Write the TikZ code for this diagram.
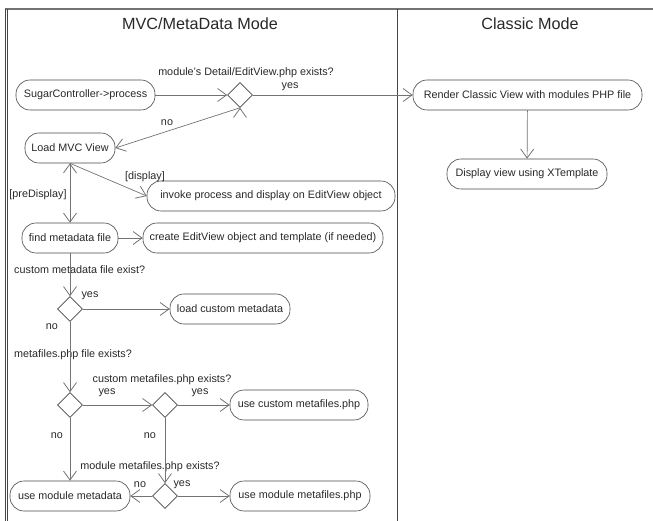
\documentclass[tikz,border=0pt]{standalone}
\usepackage{fontspec}
\setmainfont{Liberation Sans}
\usetikzlibrary{shapes,arrows.meta}
\definecolor{boxgray}{RGB}{70,70,70}
\definecolor{linegray}{RGB}{115,115,115}
\definecolor{txtgray}{RGB}{40,40,40}

\begin{document}
\begin{tikzpicture}[x=1pt,y=-1pt,
	act/.style={rectangle,draw=boxgray,line width=0.6pt,rounded corners=14pt,minimum height=30pt,inner sep=2pt,font=\fontsize{10.8}{12}\selectfont,text=txtgray},
	dec/.style={diamond,draw=boxgray,line width=0.6pt,minimum width=25pt,minimum height=25pt,inner sep=0pt},
	lbl/.style={font=\fontsize{10.8}{12}\selectfont,text=txtgray,inner sep=1pt},
	flow/.style={draw=linegray,line width=0.7pt,-{Straight Barb[length=9pt,width=13pt,line width=0.8pt]}}]

		\useasboundingbox (0,0) rectangle (653,521);

		% frame and lanes
		\draw[linegray,line width=1.4pt] (5,9) -- (653,9);
		\draw[boxgray,line width=0.6pt] (5,9) -- (5,521);
		\draw[boxgray,line width=0.6pt] (7.5,9) -- (7.5,521);
		\draw[boxgray,line width=0.8pt] (397,9) -- (397,521);
		\node[font=\fontsize{16.2}{19}\selectfont,text=txtgray] (mvctitle) at (200,24) {MVC/MetaData Mode};
		\node[font=\fontsize{16.2}{19}\selectfont,text=txtgray] (classictitle) at (530,24) {Classic Mode};

		% activities
		\node[act,minimum width=139pt] (ctrl) at (85.5,95) {SugarController->process};
		\node[dec] (dec1) at (240,95) {};
		\node[act,minimum width=229pt] (render) at (527.5,95) {Render Classic View with modules PHP file};
		\node[act,minimum width=160pt] (display) at (527,174) {Display view using XTemplate};
		\node[act,minimum width=90pt] (load) at (70,148) {Load MVC View};
		\node[act,minimum width=248pt] (invoke) at (271,196) {invoke process and display on EditView object};
		\node[act,minimum width=96pt] (find) at (70,238) {find metadata file};
		\node[act,minimum width=240pt] (create) at (263,238) {create EditView object and template (if needed)};
		\node[dec] (dec2) at (70,309) {};
		\node[act,minimum width=120pt] (custommeta) at (230,309) {load custom metadata};
		\node[dec] (dec3) at (70,405) {};
		\node[dec] (dec4) at (165,405) {};
		\node[act,minimum width=138pt] (customfiles) at (299,405) {use custom metafiles.php};
		\node[act,minimum width=120pt] (modmeta) at (70,496) {use module metadata};
		\node[dec] (dec5) at (165,496) {};
		\node[act,minimum width=140pt] (modfiles) at (300,496) {use module metafiles.php};

		% guards and questions
		\node[lbl] (q1) at (246,73) {module's Detail/EditView.php exists?};
		\node[lbl] (q1yes) at (290,87) {yes};
		\node[lbl] (q1no) at (167,123) {no};
		\node[lbl] (gdisplay) at (145,177) {[display]};
		\node[lbl] (gpre) at (38,195) {[preDisplay]};
		\node[lbl,anchor=west] (q2) at (13,270) {custom metadata file exist?};
		\node[lbl] (q2yes) at (90,296) {yes};
		\node[lbl] (q2no) at (52,327) {no};
		\node[lbl,anchor=west] (q3) at (13,355) {metafiles.php file exists?};
		\node[lbl] (q4) at (162,380) {custom metafiles.php exists?};
		\node[lbl] (q3yes) at (107,393) {yes};
		\node[lbl] (q4yes) at (200,393) {yes};
		\node[lbl] (q3no) at (57,436) {no};
		\node[lbl] (q4no) at (150,436) {no};
		\node[lbl] (q5) at (150,467) {module metafiles.php exists?};
		\node[lbl] (q5no) at (140,485) {no};
		\node[lbl] (q5yes) at (182,485) {yes};

		% flows
		\path[flow] (ctrl) edge (dec1);
		\path[flow] (dec1) edge (render);
		\path[flow] (dec1.south) edge (load.east);
		\path[flow] (render) edge (display);
		\path[flow] (load.south) edge (invoke.west);
		\path[flow] (load) edge (find);
		\path[flow] (find) edge (create);
		\path[flow] (find) edge (dec2);
		\path[flow] (dec2) edge (custommeta);
		\path[flow] (dec2) edge (dec3);
		\path[flow] (dec3) edge (dec4);
		\path[flow] (dec4) edge (customfiles);
		\path[flow] (dec3) edge (modmeta);
		\path[flow] (dec4) edge (dec5);
		\path[flow] (dec5) edge (modmeta);
		\path[flow] (dec5) edge (modfiles);

	\end{tikzpicture}
\end{document}
